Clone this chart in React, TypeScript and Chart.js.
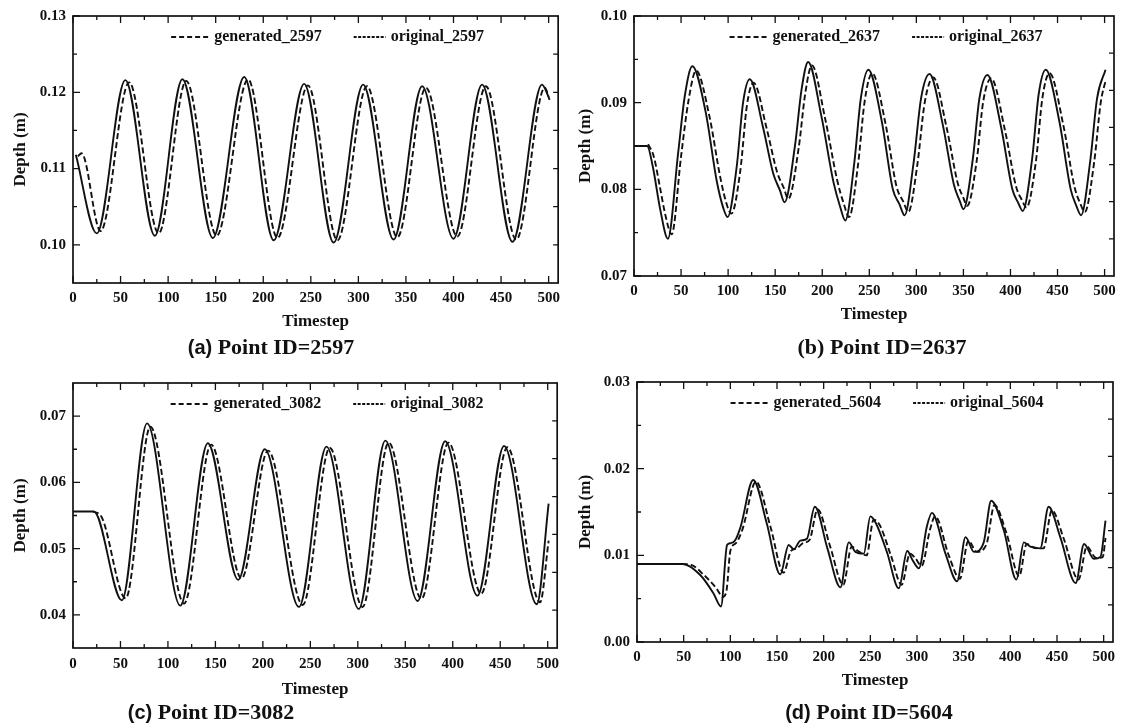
import React, { useEffect, useRef } from 'react';
import { Chart, registerables } from 'chart.js';
Chart.register(...registerables);

// ---------- shared axis ticks ----------
const xTickValues = [0, 50, 100, 150, 200, 250, 300, 350, 400, 450, 500];
const xMinorValues = [25, 75, 125, 175, 225, 275, 325, 375, 425, 475];
const rightTickValues = [1, 2, 3, 4, 5, 6];

// ---------- panel (a) Point ID=2597 ----------
const yTicksA = [0.10, 0.11, 0.12, 0.13];
const yMinorA = [0.105, 0.115, 0.125];
const tOrigA = [3, 25, 55, 86, 115, 147, 180, 211, 243, 274, 305, 337, 367, 400, 430, 462, 493, 500];
const vOrigA = [0.1118, 0.1015, 0.1216, 0.1012, 0.1217, 0.1009, 0.1220, 0.1006, 0.1211, 0.1003, 0.1210, 0.1007, 0.1208, 0.1008, 0.1210, 0.1004, 0.1210, 0.1194];
const tGenA = [5, 9, 29, 59, 90, 119, 151, 184, 215, 247, 278, 309, 341, 371, 404, 434, 466, 496, 501];
const vGenA = [0.1116, 0.1120, 0.1018, 0.1213, 0.1015, 0.1215, 0.1012, 0.1217, 0.1009, 0.1209, 0.1006, 0.1208, 0.1010, 0.1206, 0.1011, 0.1208, 0.1007, 0.1206, 0.1190];

// ---------- panel (b) Point ID=2637 ----------
const yTicksB = [0.07, 0.08, 0.09, 0.10];
const yMinorB = [0.075, 0.085, 0.095];
const tOrigB = [0, 14, 20, 28, 36, 47, 54, 62, 76, 88, 95, 99.5, 109, 116, 123, 137, 148, 155, 160, 171, 178, 185, 199, 212, 219, 224.5, 234, 241, 249, 263, 275, 282, 287.5, 297, 305, 314, 328, 340, 346, 350, 360, 367, 375.5, 390, 402, 408, 413, 423, 430, 437.5, 452, 464, 470, 475, 485, 492, 501];
const vOrigB = [0.0850, 0.0850, 0.0826, 0.0776, 0.0743, 0.0843, 0.0908, 0.0942, 0.0890, 0.0809, 0.0778, 0.0768, 0.0825, 0.0901, 0.0927, 0.0872, 0.0818, 0.0799, 0.0785, 0.0850, 0.0915, 0.0947, 0.0885, 0.0808, 0.0780, 0.0764, 0.0830, 0.0905, 0.0938, 0.0880, 0.0800, 0.0783, 0.0770, 0.0830, 0.0905, 0.0933, 0.0875, 0.0805, 0.0787, 0.0777, 0.0835, 0.0905, 0.0932, 0.0872, 0.0800, 0.0785, 0.0775, 0.0835, 0.0910, 0.0938, 0.0878, 0.0800, 0.0781, 0.0770, 0.0835, 0.0905, 0.0938];
const tGenB = [15, 21, 28, 33, 40, 50, 58, 66, 80, 92, 99, 103.5, 113, 120, 127, 141, 152, 159, 164, 175, 182, 189, 203, 216, 223, 228.5, 238, 245, 253, 267, 279, 286, 291.5, 301, 309, 318, 332, 344, 350, 354, 364, 371, 379.5, 394, 406, 412, 417, 427, 434, 441.5, 456, 468, 474, 479, 489, 496, 501];
const vGenB = [0.0852, 0.0838, 0.0800, 0.0772, 0.0748, 0.0838, 0.0903, 0.0937, 0.0885, 0.0812, 0.0781, 0.0772, 0.0822, 0.0897, 0.0923, 0.0870, 0.0820, 0.0802, 0.0789, 0.0848, 0.0911, 0.0943, 0.0882, 0.0810, 0.0783, 0.0768, 0.0828, 0.0901, 0.0934, 0.0877, 0.0803, 0.0786, 0.0774, 0.0828, 0.0901, 0.0929, 0.0872, 0.0807, 0.0790, 0.0781, 0.0832, 0.0901, 0.0928, 0.0869, 0.0803, 0.0788, 0.0779, 0.0832, 0.0906, 0.0934, 0.0875, 0.0803, 0.0784, 0.0774, 0.0832, 0.0901, 0.0925];

// ---------- panel (c) Point ID=3082 ----------
const yTicksC = [0.04, 0.05, 0.06, 0.07];
const yMinorC = [0.045, 0.055, 0.065];
const tOrigC = [0, 22, 51.5, 78, 113, 142, 174, 202, 238, 267, 301, 329, 363, 392, 426, 454, 488.5, 501];
const vOrigC = [0.0556, 0.0556, 0.0422, 0.0689, 0.0414, 0.0659, 0.0453, 0.0650, 0.0412, 0.0654, 0.0409, 0.0663, 0.0421, 0.0662, 0.0429, 0.0655, 0.0416, 0.0568];
const tGenC = [21, 30, 55.5, 81.5, 117, 145.5, 177.5, 205.5, 242, 270.5, 305, 332.5, 367, 395.5, 430, 457.5, 492, 501];
const vGenC = [0.0556, 0.0548, 0.0425, 0.0684, 0.0417, 0.0657, 0.0455, 0.0648, 0.0415, 0.0652, 0.0412, 0.0660, 0.0424, 0.0660, 0.0432, 0.0653, 0.0419, 0.0512];

// ---------- panel (d) Point ID=5604 ----------
const yTicksD = [0.00, 0.01, 0.02, 0.03];
const yMinorD = [0.005, 0.015, 0.025];
const tOrigD = [0, 49, 68, 82, 90, 96.5, 100, 105, 111, 124.5, 139, 153.5, 162.5, 168, 175, 182, 190.5, 204, 218, 227, 234, 243, 250, 256, 268, 280.5, 289.5, 295, 302, 310.5, 316, 330.5, 343, 352, 361, 371.5, 379.5, 393, 406.5, 414.5, 421.5, 432, 441, 453.5, 470, 479, 489.5, 496.5, 502];
const vOrigD = [0.0090, 0.0090, 0.0077, 0.0056, 0.0041, 0.0112, 0.0114, 0.0117, 0.0133, 0.0187, 0.0137, 0.0078, 0.0112, 0.0107, 0.0117, 0.0119, 0.0156, 0.0108, 0.0063, 0.0115, 0.0104, 0.0102, 0.0145, 0.0137, 0.0103, 0.0062, 0.0105, 0.0095, 0.0085, 0.0133, 0.0149, 0.0102, 0.0070, 0.0121, 0.0104, 0.0115, 0.0163, 0.0129, 0.0072, 0.0115, 0.0110, 0.0108, 0.0156, 0.0121, 0.0068, 0.0113, 0.0096, 0.0098, 0.0140];
const tGenD = [48, 58, 72, 85, 92, 96, 100, 106, 113, 127.5, 143, 157, 165, 171, 178, 185, 193.5, 207, 221, 230, 237, 246, 253.5, 260, 272, 283.5, 292.5, 298, 305, 314, 319.5, 334, 346, 355, 364, 374.5, 383, 396, 409.5, 417.5, 425, 435.5, 444.5, 457, 473, 482, 492, 499, 502];
const vGenD = [0.0090, 0.0089, 0.0077, 0.0062, 0.0052, 0.0060, 0.0105, 0.0114, 0.0130, 0.0185, 0.0133, 0.0080, 0.0105, 0.0108, 0.0114, 0.0118, 0.0153, 0.0110, 0.0066, 0.0110, 0.0105, 0.0100, 0.0141, 0.0135, 0.0100, 0.0066, 0.0102, 0.0097, 0.0088, 0.0130, 0.0145, 0.0100, 0.0073, 0.0117, 0.0104, 0.0113, 0.0158, 0.0125, 0.0076, 0.0113, 0.0109, 0.0108, 0.0152, 0.0120, 0.0072, 0.0110, 0.0097, 0.0098, 0.0120];

const INK = '#111111';
const SERIF = '"Liberation Serif", "Times New Roman", serif';

const toPoints = (ts: number[], vs: number[]) => ts.map((t, i) => ({ x: t, y: vs[i] }));

const panels = [
  {
    key: 'a', id: '2597', tag: '(a)', tagSans: true,
    yMin: 0.095, yMax: 0.13, yTicks: yTicksA, yMinor: yMinorA,
    tOrig: tOrigA, vOrig: vOrigA, tGen: tGenA, vGen: vGenA,
    box: { left: 0, top: 0, w: 566, h: 335 }, pad: { top: 16, right: 6 }, yW: 73, xH: 52,
    yTitlePad: 10, xTitlePad: 3, xTickPad: 6, cap: { cx: 271, cy: 347 },
  },
  {
    key: 'b', id: '2637', tag: '(b)', tagSans: false,
    yMin: 0.07, yMax: 0.10, yTicks: yTicksB, yMinor: yMinorB,
    tOrig: tOrigB, vOrig: vOrigB, tGen: tGenB, vGen: vGenB,
    box: { left: 566, top: 0, w: 556, h: 330 }, pad: { top: 16, right: 8 }, yW: 68, xH: 54,
    yTitlePad: 9, xTitlePad: 5, xTickPad: 6, cap: { cx: 882, cy: 347 },
  },
  {
    key: 'c', id: '3082', tag: '(c)', tagSans: true,
    yMin: 0.035, yMax: 0.075, yTicks: yTicksC, yMinor: yMinorC,
    tOrig: tOrigC, vOrig: vOrigC, tGen: tGenC, vGen: vGenC,
    box: { left: 0, top: 366, w: 566, h: 335 }, pad: { top: 17, right: 3 }, yW: 73, xH: 53,
    yTitlePad: 10, xTitlePad: 1, xTickPad: 7, cap: { cx: 211, cy: 712 },
  },
  {
    key: 'd', id: '5604', tag: '(d)', tagSans: true,
    yMin: 0.0, yMax: 0.03, yTicks: yTicksD, yMinor: yMinorD,
    tOrig: tOrigD, vOrig: vOrigD, tGen: tGenD, vGen: vGenD,
    box: { left: 566, top: 366, w: 556, h: 330 }, pad: { top: 16, right: 9 }, yW: 71, xH: 54,
    yTitlePad: 9, xTitlePad: 5, xTickPad: 6, cap: { cx: 869, cy: 712 },
  },
];

function makeFramePlugin(p: any) {
  return {
    id: 'frameTicks' + p.key,
    afterDatasetsDraw(chart: any) {
      const { ctx, chartArea, scales } = chart;
      const { left, top, right, bottom } = chartArea;
      const sx = scales.x, sy = scales.y, sy2 = scales.y2;
      const MAJOR = 7, MINOR = 4, RIGHT = 5;
      ctx.save();
      ctx.strokeStyle = INK;
      ctx.setLineDash([]);
      ctx.lineWidth = 1.3;
      ctx.beginPath();
      const seg = (x1: number, y1: number, x2: number, y2: number) => { ctx.moveTo(x1, y1); ctx.lineTo(x2, y2); };
      xTickValues.forEach((v) => { const px = sx.getPixelForValue(v); seg(px, bottom, px, bottom - MAJOR); seg(px, top, px, top + MAJOR); });
      xMinorValues.forEach((v) => { const px = sx.getPixelForValue(v); seg(px, bottom, px, bottom - MINOR); seg(px, top, px, top + MINOR); });
      p.yTicks.forEach((v: number) => { const py = sy.getPixelForValue(v); seg(left, py, left + MAJOR, py); });
      p.yMinor.forEach((v: number) => { const py = sy.getPixelForValue(v); seg(left, py, left + MINOR, py); });
      rightTickValues.forEach((v) => { const py = sy2.getPixelForValue(v); seg(right, py, right - RIGHT, py); });
      ctx.stroke();
      ctx.lineWidth = 1.7;
      ctx.strokeRect(left, top, right - left, bottom - top);

      // legend inside the plot frame
      ctx.font = 'bold 16px ' + SERIF;
      ctx.textBaseline = 'middle';
      ctx.textAlign = 'left';
      ctx.fillStyle = INK;
      const items = chart.data.datasets.map((ds: any) => ({
        label: ds.label, dash: ds.legendDash, len: ds.legendLen, w: ctx.measureText(ds.label).width,
      }));
      const gap = 5, between = 32;
      const total = items.reduce((s: number, it: any) => s + it.len + gap + it.w, 0) + between * (items.length - 1);
      let cx = (left + right) / 2 + 12 - total / 2;
      const ly = top + 21;
      items.forEach((it: any) => {
        ctx.beginPath();
        ctx.setLineDash(it.dash);
        ctx.lineWidth = 1.8;
        ctx.moveTo(cx, ly);
        ctx.lineTo(cx + it.len, ly);
        ctx.stroke();
        ctx.setLineDash([]);
        cx += it.len + gap;
        ctx.fillText(it.label, cx, ly);
        cx += it.w + between;
      });
      ctx.restore();
    },
  };
}

function Panel({ p }: { p: any }) {
  const ref = useRef<HTMLCanvasElement | null>(null);
  useEffect(() => {
    if (!ref.current) return;
    const tickFont = { family: SERIF, size: 15, weight: 'bold' as const };
    const titleFont = { family: SERIF, size: 17, weight: 'bold' as const };
    const chart = new Chart(ref.current, {
      type: 'line',
      data: {
        datasets: [
          {
            label: 'generated_' + p.id,
            data: toPoints(p.tGen, p.vGen),
            borderColor: INK,
            borderWidth: 1.9,
            borderDash: [6, 3],
            pointRadius: 0,
            cubicInterpolationMode: 'monotone',
            fill: false,
            legendDash: [5, 3],
            legendLen: 38,
          } as any,
          {
            label: 'original_' + p.id,
            data: toPoints(p.tOrig, p.vOrig),
            borderColor: INK,
            borderWidth: 1.9,
            pointRadius: 0,
            cubicInterpolationMode: 'monotone',
            fill: false,
            legendDash: [3, 1.5],
            legendLen: 32,
          } as any,
        ],
      },
      options: {
        responsive: false,
        animation: false,
        events: [],
        layout: { padding: { left: 0, top: p.pad.top, right: p.pad.right, bottom: 0 }, autoPadding: false },
        plugins: { legend: { display: false }, tooltip: { enabled: false }, title: { display: false } },
        scales: {
          x: {
            type: 'linear',
            min: 0,
            max: 510,
            grid: { display: false, drawTicks: false },
            border: { display: false },
            ticks: { font: tickFont, color: INK, padding: p.xTickPad, maxRotation: 0, callback: (v: any) => String(v) },
            title: { display: true, text: 'Timestep', font: titleFont, color: INK, padding: { top: 0, bottom: p.xTitlePad } },
            afterBuildTicks: (axis: any) => { axis.ticks = xTickValues.map((v) => ({ value: v })); },
            afterFit: (axis: any) => { axis.height = p.xH; },
          },
          y: {
            type: 'linear',
            position: 'left',
            min: p.yMin,
            max: p.yMax,
            grid: { display: false, drawTicks: false },
            border: { display: false },
            ticks: { font: tickFont, color: INK, padding: 7, callback: (v: any) => Number(v).toFixed(2) },
            title: { display: true, text: 'Depth (m)', font: titleFont, color: INK, padding: { top: p.yTitlePad, bottom: 0 } },
            afterBuildTicks: (axis: any) => { axis.ticks = p.yTicks.map((v: number) => ({ value: v })); },
            afterFit: (axis: any) => { axis.width = p.yW; },
          },
          y2: {
            type: 'linear',
            position: 'right',
            display: false,
            min: 0,
            max: 7,
          },
        },
      } as any,
      plugins: [makeFramePlugin(p)],
    });
    return () => chart.destroy();
  }, [p]);

  return (
    <>
      <canvas
        ref={ref}
        width={p.box.w}
        height={p.box.h}
        style={{ position: 'absolute', left: p.box.left, top: p.box.top, width: p.box.w, height: p.box.h }}
      />
      <div
        style={{
          position: 'absolute',
          left: p.cap.cx - 200,
          top: p.cap.cy - 12,
          width: 400,
          height: 24,
          lineHeight: '24px',
          textAlign: 'center',
          fontFamily: SERIF,
          fontWeight: 'bold',
          fontSize: 22,
          color: INK,
          whiteSpace: 'nowrap',
        }}
      >
        <span style={{ fontFamily: p.tagSans ? '"Liberation Sans", Arial, sans-serif' : SERIF, fontSize: p.tagSans ? 20 : 22 }}>{p.tag}</span>
        {' Point ID=' + p.id}
      </div>
    </>
  );
}

export default function App() {
  return (
    <div style={{ position: 'absolute', left: 0, top: 0, width: 1122, height: 727, background: '#ffffff', overflow: 'hidden' }}>
      {panels.map((p) => (
        <Panel key={p.key} p={p} />
      ))}
    </div>
  );
}
